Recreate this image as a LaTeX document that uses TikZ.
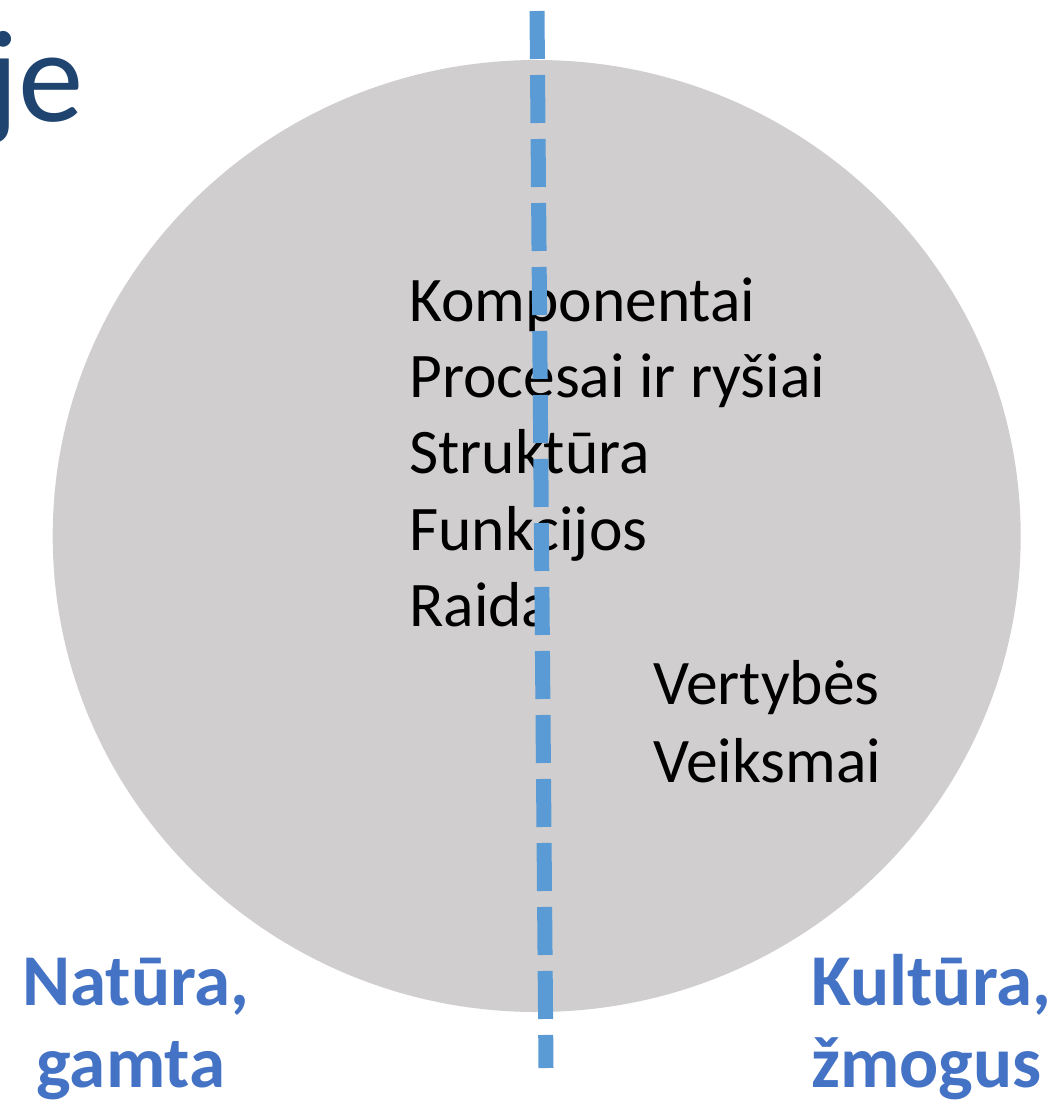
\documentclass[tikz,border=0pt]{standalone}
\usepackage{fontspec}
\setmainfont{Carlito}
\usetikzlibrary{shapes.geometric}
\definecolor{circgrey}{HTML}{D0CECE}
\definecolor{dashblue}{HTML}{5B9BD5}
\definecolor{labelblue}{HTML}{4472C4}
\definecolor{titleblue}{HTML}{1F4470}
\tikzset{
  bodytext/.style={inner sep=0pt, anchor=base west, font=\fontsize{63.5}{76}\selectfont, text=black},
  sidelabel/.style={inner sep=0pt, font=\fontsize{73}{82}\selectfont\bfseries, text=labelblue},
  divider/.style={draw=dashblue, line width=15pt, dash pattern=on 48pt off 16pt}
}
\begin{document}
\begin{tikzpicture}[x=1pt,y=-1pt]
\useasboundingbox (0,0) rectangle (1056,1106);
\clip (0,0) rectangle (1056,1106);
\node[ellipse, fill=circgrey, draw=none, inner sep=0pt, minimum width=968pt, minimum height=952pt] (circ) at (536.7,536) {};
\node[inner sep=0pt, anchor=base east, font=\fontsize{131}{150}\selectfont, text=titleblue] (title) at (84,121) {je};
\node[bodytext] (l1) at (409,321) {Komponentai};
\node[bodytext] (l2) at (409,397) {Procesai ir ryšiai};
\node[bodytext] (l3) at (409,473.5) {Struktūra};
\node[bodytext] (l4) at (409,550) {Funkcijos};
\node[bodytext] (l5) at (409,626) {Raida};
\node[bodytext] (v1) at (653,704) {Vertybės};
\node[bodytext] (v2) at (653,782) {Veiksmai};
\node[sidelabel, anchor=base] (n1) at (136,1005) {Natūra,};
\node[sidelabel, anchor=base] (n2) at (131,1087) {gamta};
\node[sidelabel, anchor=base west] (k1) at (811,1005) {Kultūra,};
\node[sidelabel, anchor=base west] (k2) at (811,1087) {žmogus};
\coordinate (dtop) at (537,11);
\coordinate (dbot) at (546,1068);
\draw[divider] (dtop) -- (dbot);
\end{tikzpicture}
\end{document}
